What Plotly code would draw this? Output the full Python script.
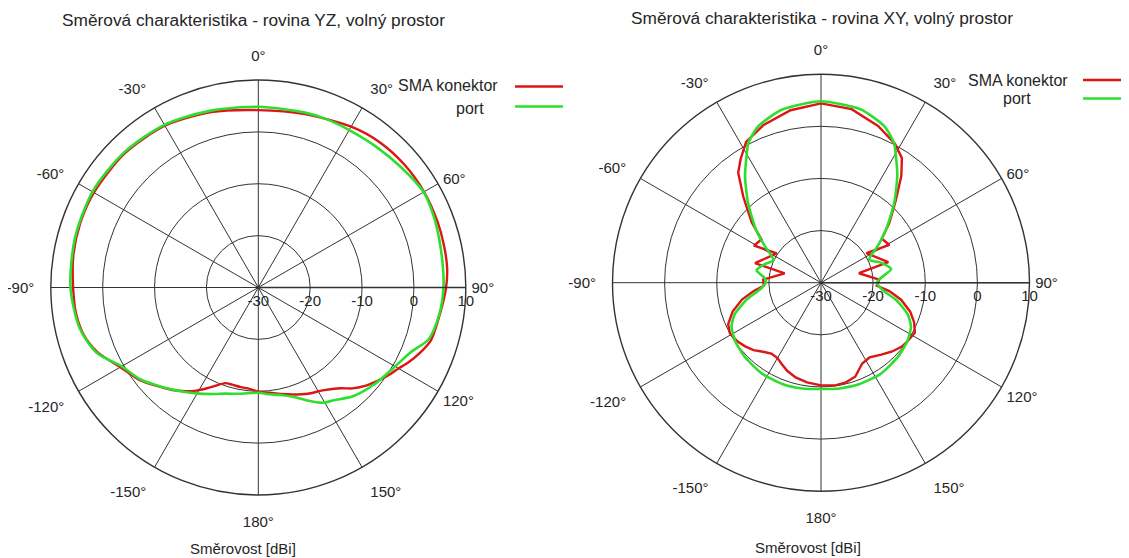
import plotly.graph_objects as go

W, H = 1129, 558

# ---------------- data ----------------
titles = ["Směrová charakteristika - rovina YZ, volný prostor",
          "Směrová charakteristika - rovina XY, volný prostor"]
axis_label = "Směrovost [dBi]"
series_names = ["SMA konektor", "port"]

angle_ticks = [0, 30, 60, 90, 120, 150, 180, 210, 240, 270, 300, 330]
angle_labels = ["0°", "30°", "60°", "90°", "120°", "150°", "180°",
                "-150°", "-120°", "-90°", "-60°", "-30°"]
radial_ticks = [-30, -20, -10, 0, 10]
radial_labels = ["-30", "-20", "-10", "0", "10"]

# YZ plane – SMA konektor
yz_sma_theta = [-180, -175, -170, -165, -161, -157, -153, -149, -145, -140, -135, -128,
                -120, -112, -105, -98, -90, -80, -70, -60, -45, -30, -15, 0, 15, 30,
                40, 50, 60, 70, 77, 84, 90, 98, 107, 112, 117, 120, 123, 128, 133,
                137, 141, 148, 155, 162, 168, 174, 180]
yz_sma_r = [-9.9, -10.4, -10.5, -10.6, -10.5, -9.5, -8.2, -6.8, -5.6, -4.2, -3.0, -1.0,
            0.7, 3.4, 4.9, 5.5, 5.7, 6.2, 6.5, 6.6, 6.5, 6.0, 5.0, 4.2, 4.6, 5.8,
            6.5, 6.8, 6.9, 6.8, 6.7, 6.6, 6.2, 5.4, 4.8, 3.6, 2.2, 1.2, 0.5, -0.8, -2.1,
            -3.4, -5.0, -6.6, -7.4, -8.3, -9.0, -9.6, -9.9]

# YZ plane – port
yz_port_theta = [-180, -170, -163, -157, -151, -145, -140, -135, -128, -120, -112, -103,
                 -90, -75, -60, -45, -30, -15, 0, 15, 22, 30, 40, 50, 60, 68, 75, 84,
                 90, 98, 107, 113, 121, 130, 139, 146, 151, 157, 162, 168, 174, 180]
yz_port_r = [-9.7, -9.2, -8.6, -7.7, -6.6, -5.4, -4.3, -3.1, -1.2, 0.4, 3.6, 5.3,
             6.2, 6.6, 6.9, 6.7, 6.2, 5.3, 4.85, 4.9, 5.0, 5.05, 5.4, 6.0, 6.8, 6.5, 6.1, 5.8,
             5.7, 5.3, 4.3, 1.9, 0.3, -0.9, -2.2, -3.8, -4.6, -6.4, -7.8, -8.8, -9.3, -9.7]

# XY plane – SMA konektor
xy_sma_theta = [-180, -172, -165, -159, -154, -150, -145, -140, -135, -130, -125, -119,
                -114, -108, -102, -97, -93, -87, -75.5, -73.5, -56.5, -61, -54, -49, -45,
                -42, -37, -33, -28, -20, -10, 0, 10, 20, 28, 33, 37, 42, 45, 49, 54, 61,
                57, 73, 76, 87, 93, 97, 102, 108, 113, 118, 123, 128, 134, 140, 147, 153,
                160, 166, 172, 180]
xy_sma_r = [-10.3, -10.7, -11.2, -11.9, -12.7, -13.3, -13.4, -12.7, -11.7, -11.0, -10.4, -10.0,
            -10.5, -12.2, -14.5, -17.0, -19.0, -18.9, -22.8, -16.8, -19.8, -15.3, -15.9, -12.4, -10.0,
            -7.7, -3.6, -1.7, 0.6, 2.2, 3.6, 4.4, 3.8, 2.0, 0.2, -1.5, -4.4, -8.5, -10.5, -12.7, -15.6, -15.0,
            -19.6, -16.5, -22.5, -18.8, -19.3, -16.8, -14.3, -12.0, -10.6, -9.6, -9.9, -10.2, -11.0, -12.0, -12.9, -12.6,
            -10.8, -10.3, -10.1, -10.3]

# XY plane – port
xy_port_theta = [-180, -170, -159, -147, -134, -124, -116, -110, -103, -97, -90, -85.5, -79,
                 -72, -64.5, -57, -51, -42.5, -35.5, -30.5, -27.5, -22, -13, 0, 13, 22, 27.5,
                 30.5, 35.5, 42.5, 51, 57, 64.5, 71, 79, 85.5, 90, 97, 103, 110, 116, 124,
                 134, 147, 159, 170, 180]
xy_port_r = [-9.6, -9.4, -9.2, -9.2, -9.6, -10.1, -10.9, -12.4, -15.3, -18.0, -19.4, -19.2, -17.4,
             -18.6, -19.9, -17.2, -14.0, -9.3, -4.9, -1.85, 0.2, 2.3, 4.0, 4.8, 4.1, 2.4, 0.3,
             -1.7, -4.8, -9.2, -14.0, -17.0, -19.8, -18.0, -16.3, -18.5, -19.3, -18.0, -15.2, -12.3, -10.8, -10.0,
             -9.5, -9.1, -9.2, -9.4, -9.6]

# ---------------- style ----------------
RED = "#dc1515"
GREEN = "#2ede2e"
GRID = "#333333"
TXT = "#262626"
FONT = "Liberation Sans, Arial, sans-serif"
OFF = 8  # page body margin of the browser


def px(x):
    return (x - OFF) / W


def py(y):
    return 1 - (y - OFF) / H


# angular labels split: 60/90/120 close to the ring, the rest further out
near_side = {60, 90, 120}
labels_near = [t if a in near_side else "" for a, t in zip(angle_ticks, angle_labels)]
ticks_far = [a for a in angle_ticks if a not in near_side]
labels_far = [t for a, t in zip(angle_ticks, angle_labels) if a not in near_side]

fig = go.Figure()

fig.add_trace(go.Scatterpolar(r=yz_sma_r, theta=yz_sma_theta, mode="lines", name=series_names[0],
                              line=dict(color=RED, width=2.4, shape="spline", smoothing=0.8),
                              subplot="polar", showlegend=False))
fig.add_trace(go.Scatterpolar(r=yz_port_r, theta=yz_port_theta, mode="lines", name=series_names[1],
                              line=dict(color=GREEN, width=2.6, shape="spline", smoothing=0.8),
                              subplot="polar", showlegend=False))
fig.add_trace(go.Scatterpolar(r=xy_sma_r, theta=xy_sma_theta, mode="lines", name=series_names[0],
                              line=dict(color=RED, width=2.4),
                              subplot="polar2", showlegend=False))
fig.add_trace(go.Scatterpolar(r=xy_port_r, theta=xy_port_theta, mode="lines", name=series_names[1],
                              line=dict(color=GREEN, width=2.6, shape="spline", smoothing=0.6),
                              subplot="polar2", showlegend=False))
# invisible carriers for the label-only overlay subplots
for sp, rr, tt in (("polar3", yz_sma_r, yz_sma_theta), ("polar4", xy_sma_r, xy_sma_theta)):
    fig.add_trace(go.Scatterpolar(r=rr, theta=tt, mode="lines", opacity=0, hoverinfo="skip",
                                  line=dict(width=1), subplot=sp, showlegend=False))


def polar_layout(dx, dy):
    return dict(
        domain=dict(x=dx, y=dy),
        bgcolor="white",
        angularaxis=dict(rotation=90, direction="clockwise", tickmode="array",
                         tickvals=angle_ticks, ticktext=labels_near,
                         showline=True, linecolor=GRID, linewidth=1.4,
                         showgrid=True, gridcolor=GRID, gridwidth=1.1,
                         ticks="outside", ticklen=2, tickcolor="rgba(0,0,0,0)",
                         tickfont=dict(size=15, color=TXT, family=FONT)),
        radialaxis=dict(range=[-30, 10], angle=0, tickangle=0, tickmode="array",
                        tickvals=radial_ticks, ticktext=radial_labels,
                        showline=True, linecolor=GRID, linewidth=1.4,
                        showgrid=True, gridcolor=GRID, gridwidth=1.1, ticks="",
                        tickfont=dict(size=15, color=TXT, family=FONT)),
    )


def overlay_layout(dx, dy):
    return dict(
        domain=dict(x=dx, y=dy),
        bgcolor="rgba(0,0,0,0)",
        angularaxis=dict(rotation=90, direction="clockwise", tickmode="array",
                         tickvals=ticks_far, ticktext=labels_far,
                         showline=False, showgrid=False,
                         ticks="outside", ticklen=13, tickcolor="rgba(0,0,0,0)",
                         tickfont=dict(size=15, color=TXT, family=FONT)),
        radialaxis=dict(range=[-30, 10], visible=False),
    )


left_dx = [px(258.3 - 207.5), px(258.3 + 207.5)]
left_dy = [py(287.5 + 207.5), py(287.5 - 207.5)]
right_dx = [px(821 - 208.5), px(821 + 208.5)]
right_dy = [py(282.7 + 208.5), py(282.7 - 208.5)]

fig.update_layout(
    width=W, height=H,
    margin=dict(l=0, r=0, t=0, b=0),
    paper_bgcolor="white",
    font=dict(family=FONT, color=TXT),
    polar=polar_layout(left_dx, left_dy),
    polar2=polar_layout(right_dx, right_dy),
    polar3=overlay_layout(left_dx, left_dy),
    polar4=overlay_layout(right_dx, right_dy),
)

ann = []
ann.append(dict(x=px(253.5), y=py(19.5), text=titles[0], size=17.3))
ann.append(dict(x=px(822), y=py(18.5), text=titles[1], size=17.3))
ann.append(dict(x=px(243), y=py(548), text=axis_label, size=15))
ann.append(dict(x=px(808), y=py(547), text=axis_label, size=15))
for a in ann:
    s = a.pop("size")
    a.update(xref="paper", yref="paper", showarrow=False, xanchor="center", yanchor="middle",
             font=dict(size=s, color=TXT, family=FONT))

legend_items = [
    # text, text centre x, text y, line x0, line x1, line y, colour
    (series_names[0], 447.5, 86, 515, 563, 86.5, RED),
    (series_names[1], 470, 108.5, 515, 563, 106.5, GREEN),
    (series_names[0], 1018.4, 80, 1083, 1128, 80, RED),
    (series_names[1], 1017, 98.5, 1083, 1128, 98.5, GREEN),
]
shapes = []
for txt, tx, ty, x0, x1, ly, col in legend_items:
    ann.append(dict(x=px(tx), y=py(ty), xref="paper", yref="paper", text=txt, showarrow=False,
                    xanchor="center", yanchor="middle",
                    font=dict(size=16, color=TXT, family=FONT)))
    shapes.append(dict(type="line", xref="paper", yref="paper", x0=px(x0), x1=px(x1),
                       y0=py(ly), y1=py(ly), line=dict(color=col, width=2.6)))

fig.update_layout(annotations=ann, shapes=shapes)

fig.write_html("out.html")
